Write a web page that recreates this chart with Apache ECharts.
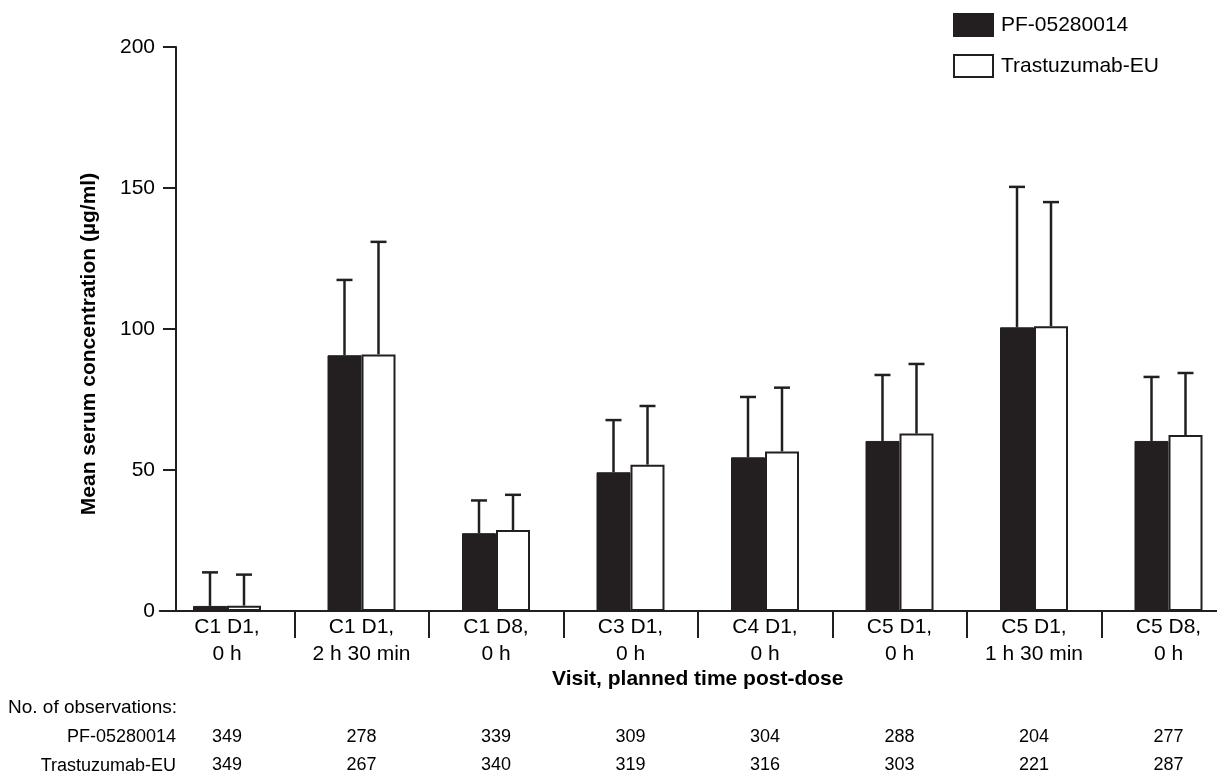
<!DOCTYPE html>
<html>
<head>
<meta charset="utf-8">
<script src="https://cdn.jsdelivr.net/npm/echarts@6/dist/echarts.min.js"></script>
<style>
html,body{margin:0;padding:0;background:#fff;}
#chart{width:1217px;height:782px;}
</style>
</head>
<body>
<div id="chart"></div>
<script>
// ---- data ----
const categories = ['C1 D1,\n0 h', 'C1 D1,\n2 h 30 min', 'C1 D8,\n0 h', 'C3 D1,\n0 h', 'C4 D1,\n0 h', 'C5 D1,\n0 h', 'C5 D1,\n1 h 30 min', 'C5 D8,\n0 h'];
const seriesNames = ['PF-05280014', 'Trastuzumab-EU'];
const pfMean  = [1.8, 90.7, 27.6, 49.2, 54.5, 60.3, 100.6, 60.3];
const pfUpper = [13.7, 117.4, 39.2, 67.7, 75.9, 83.7, 150.4, 83.0];
const trMean  = [1.9, 91.0, 28.7, 51.9, 56.6, 62.9, 101.0, 62.4];
const trUpper = [12.9, 130.9, 41.2, 72.7, 79.2, 87.6, 145.0, 84.4];
const pfN = [349, 278, 339, 309, 304, 288, 204, 277];
const trN = [349, 267, 340, 319, 316, 303, 221, 287];
const yTicks = [0, 50, 100, 150, 200];

// ---- styling ----
const INK = '#231f20';
const FONT = '"Liberation Sans", Arial, Helvetica, sans-serif';
const BAR_W = 34;

function errorSeries(name, means, uppers, shift) {
  return {
    type: 'custom',
    name: name + ' SD',
    z: 3,
    data: means.map((m, i) => [i, m, uppers[i]]),
    renderItem: function (params, api) {
      const i = api.value(0);
      const p0 = api.coord([i, api.value(1)]);
      const p1 = api.coord([i, api.value(2)]);
      const x = p0[0] + shift;
      return {
        type: 'group',
        children: [
          { type: 'line', shape: { x1: x, y1: p0[1], x2: x, y2: p1[1] },
            style: { stroke: INK, lineWidth: 2.5 } },
          { type: 'line', shape: { x1: x - 8, y1: p1[1], x2: x + 8, y2: p1[1] },
            style: { stroke: INK, lineWidth: 2.5 } }
        ]
      };
    }
  };
}

function countAxis(values, offset) {
  return {
    type: 'category',
    gridIndex: 0,
    position: 'bottom',
    offset: offset,
    data: values.map(String),
    axisLine: { show: false },
    axisTick: { show: false },
    splitLine: { show: false },
    axisLabel: { interval: 0, margin: 0, verticalAlign: 'middle', fontSize: 18, color: '#000', fontFamily: FONT }
  };
}

const chart = echarts.init(document.getElementById('chart'), null, { renderer: 'canvas' });
chart.setOption({
  animation: false,
  backgroundColor: '#fff',
  textStyle: { fontFamily: FONT, color: INK },
  grid: { left: 159.75, width: 1076, top: 47, bottom: 171, containLabel: false, outerBoundsMode: 'none' },
  legend: {
    data: seriesNames,
    orient: 'vertical',
    left: 953, top: 13,
    padding: 0,
    icon: 'rect',
    itemWidth: 39, itemHeight: 22, itemGap: 17,
    textStyle: { fontSize: 21, color: '#000', fontFamily: FONT, padding: [0, 0, 0, 3] }
  },
  xAxis: [
    {
      type: 'category',
      data: categories,
      axisLine: { show: true, lineStyle: { color: INK, width: 2 } },
      axisTick: { show: true, length: 27, interval: function (i) { return i !== 0; }, lineStyle: { color: INK, width: 2 } },
      axisLabel: { interval: 0, fontSize: 21, lineHeight: 27, margin: 3, color: '#000', fontFamily: FONT },
      splitLine: { show: false },
      name: 'Visit, planned time post-dose',
      nameLocation: 'middle',
      nameGap: 58,
      nameMoveOverlap: false,
      nameTextStyle: { fontSize: 21, fontWeight: 'bold', color: '#000', fontFamily: FONT }
    },
    countAxis(pfN, 126),
    countAxis(trN, 154)
  ],
  yAxis: {
    type: 'value',
    min: 0, max: 200, interval: 50,
    offset: -16.25,
    axisLine: { show: true, lineStyle: { color: INK, width: 2 } },
    axisTick: { show: true, length: 13, lineStyle: { color: INK, width: 2 } },
    axisLabel: { fontSize: 21, margin: 21, color: '#000', fontFamily: FONT,
      formatter: function (v) { return yTicks.indexOf(v) >= 0 ? String(v) : ''; } },
    splitLine: { show: false },
    name: 'Mean serum concentration (µg/ml)',
    nameLocation: 'middle',
    nameGap: 76,
    nameMoveOverlap: false,
    nameTextStyle: { fontSize: 21, fontWeight: 'bold', color: '#000', fontFamily: FONT, padding: [0, 30, 0, 0] }
  },
  series: [
    {
      type: 'bar', name: seriesNames[0], data: pfMean,
      barWidth: BAR_W, barGap: '0%',
      itemStyle: { color: INK, borderColor: INK, borderWidth: 1 }
    },
    {
      type: 'bar', name: seriesNames[1], data: trMean,
      barWidth: BAR_W, barGap: '0%',
      itemStyle: { color: '#ffffff', borderColor: INK, borderWidth: 2 }
    },
    errorSeries(seriesNames[0], pfMean, pfUpper, -BAR_W / 2),
    errorSeries(seriesNames[1], trMean, trUpper, BAR_W / 2)
  ],
  graphic: [
    { type: 'text', left: 8, top: 698, style: { text: 'No. of observations:', font: '19px ' + FONT, fill: '#000' } },
    { type: 'text', style: { text: seriesNames[0], x: 176, y: 737, align: 'right', verticalAlign: 'middle', font: '18px ' + FONT, fill: '#000' } },
    { type: 'text', style: { text: seriesNames[1], x: 176, y: 766, align: 'right', verticalAlign: 'middle', font: '18px ' + FONT, fill: '#000' } }
  ]
});
</script>
</body>
</html>
